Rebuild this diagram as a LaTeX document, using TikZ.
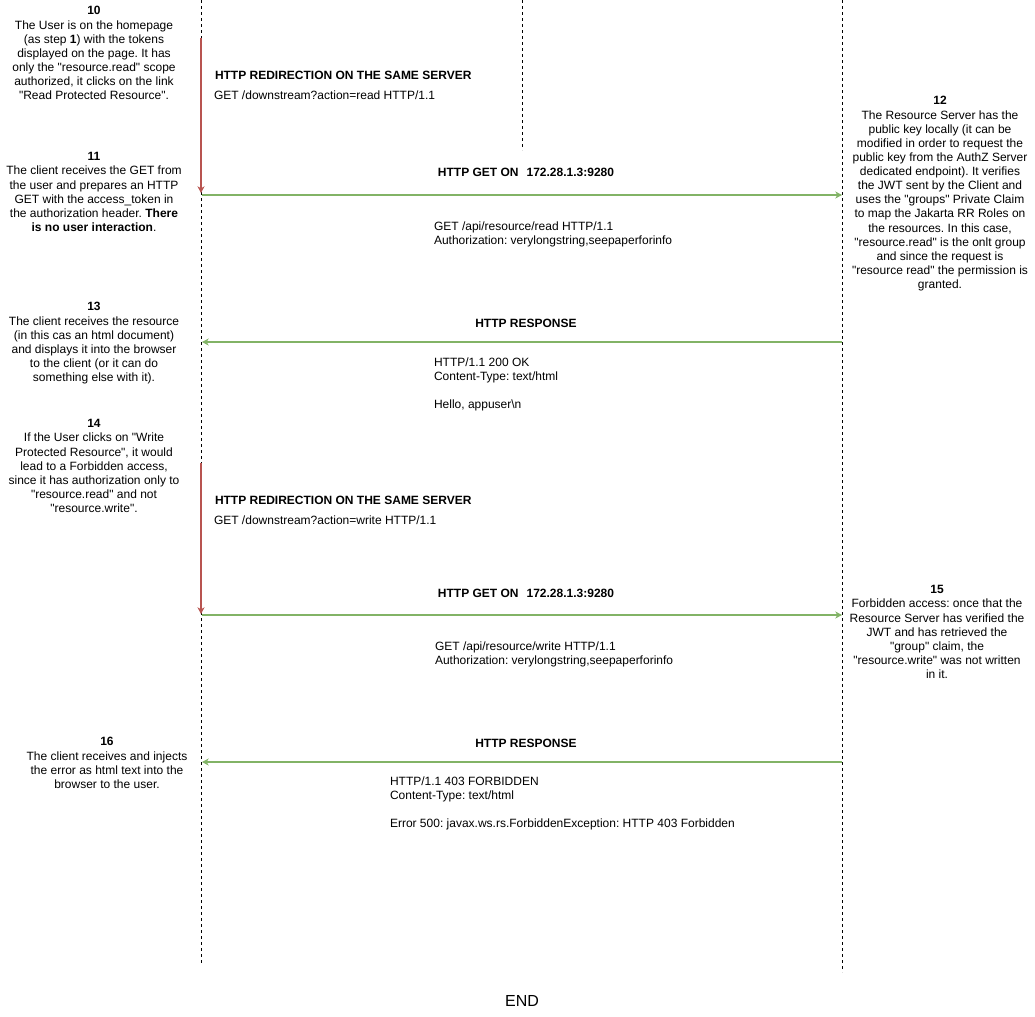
\documentclass[tikz,border=0pt]{standalone}
\usepackage{fontspec}
\setmainfont{Liberation Sans}[Ligatures=TeXOff]
\usetikzlibrary{arrows.meta}
\definecolor{redc}{HTML}{B85450}
\definecolor{greenc}{HTML}{82B366}
\frenchspacing
\begin{document}
\frenchspacing
\begin{tikzpicture}[x=0.75pt,y=-0.75pt,
  every node/.style={inner sep=0pt, outer sep=0pt, font=\fontsize{9}{10.6}\selectfont},
  lifeline/.style={draw=black, line width=0.75pt, dash pattern=on 2.25pt off 2.25pt},
  redarrow/.style={draw=redc, line width=0.9pt, -{Stealth[length=5pt,width=5.25pt,inset=1.5pt]}},
  greenarrow/.style={draw=greenc, line width=0.9pt, -{Stealth[length=5pt,width=5.25pt,inset=1.5pt]}},
  stepnote/.style={anchor=north, align=center},
  msgtitle/.style={font=\fontsize{9}{10.6}\selectfont\bfseries},
  msgbody/.style={anchor=north west, align=left},
]
\useasboundingbox (0,0) rectangle (1035,1017);

% lifelines
\coordinate (LT) at (201,0);
\coordinate (LB) at (201,965);
\coordinate (MT) at (522,0);
\coordinate (MB) at (522,150);
\coordinate (RT) at (842,0);
\coordinate (RB) at (842,972);
\draw[lifeline] (LT) -- (LB);
\draw[lifeline] (MT) -- (MB);
\draw[lifeline] (RT) -- (RB);

% arrow end points
\coordinate (r1s) at (201,38);
\coordinate (r1e) at (201,193);
\coordinate (g1s) at (202,195);
\coordinate (g1e) at (842,195);
\coordinate (g2s) at (842,342);
\coordinate (g2e) at (202,342);
\coordinate (r2s) at (201,463);
\coordinate (r2e) at (201,614);
\coordinate (g3s) at (202,615);
\coordinate (g3e) at (842,615);
\coordinate (g4s) at (842,762);
\coordinate (g4e) at (202,762);

\draw[redarrow] (r1s) -- (r1e);
\draw[greenarrow] (g1s) -- (g1e);
\draw[greenarrow] (g2s) -- (g2e);
\draw[redarrow] (r2s) -- (r2e);
\draw[greenarrow] (g3s) -- (g3e);
\draw[greenarrow] (g4s) -- (g4e);

% step notes
\node[stepnote] (n10) at (94,6.5) {\textbf{10}\\The User is on the homepage\\(as step \textbf{1}) with the tokens\\displayed on the page. It has\\only the "resource.read" scope\\authorized, it clicks on the link\\"Read Protected Resource".};
\node[stepnote] (n11) at (94,152.5) {\textbf{11}\\The client receives the GET from\\the user and prepares an HTTP\\GET with the access\_token in\\the authorization header. \textbf{There}\\\textbf{is no user interaction}.};
\node[stepnote] (n13) at (94,302.5) {\textbf{13}\\The client receives the resource\\(in this cas an html document)\\and displays it into the browser\\to the client (or it can do\\something else with it).};
\node[stepnote] (n14) at (94,419.5) {\textbf{14}\\If the User clicks on "Write\\Protected Resource", it would\\lead to a Forbidden access,\\since it has authorization only to\\"resource.read" and not\\"resource.write".};
\node[stepnote] (n16) at (107,737.5) {\textbf{16}\\The client receives and injects\\the error as html text into the\\browser to the user.};
\node[stepnote] (n12) at (940,96.5) {\textbf{12}\\The Resource Server has the\\public key locally (it can be\\modified in order to request the\\public key from the AuthZ Server\\dedicated endpoint). It verifies\\the JWT sent by the Client and\\uses the "groups" Private Claim\\to map the Jakarta RR Roles on\\the resources. In this case,\\"resource.read" is the onlt group\\and since the request is\\"resource read" the permission is\\granted.};
\node[stepnote] (n15) at (937,585.5) {\textbf{15}\\Forbidden access: once that the\\Resource Server has verified the\\JWT and has retrieved the\\"group" claim, the\\"resource.write" was not written\\in it.};

% messages
\node[msgtitle, anchor=base west] (t1) at (215,79.3) {HTTP REDIRECTION ON THE SAME SERVER};
\node[anchor=base west] (m1) at (214,99.3) {GET /downstream?action=read HTTP/1.1};
\node[msgtitle, anchor=base] (t2) at (526,176.3) {HTTP GET ON\hspace{6pt}172.28.1.3:9280};
\node[msgbody] (m2) at (434,221.5) {GET /api/resource/read HTTP/1.1\\Authorization: verylongstring,seepaperforinfo};
\node[msgtitle, anchor=base] (t3) at (526,327.3) {HTTP RESPONSE};
\node[msgbody] (m3) at (434,357.5) {HTTP/1.1 200 OK\\Content-Type: text/html\\[10.6pt]Hello, appuser\textbackslash n};
\node[msgtitle, anchor=base west] (t4) at (215,504.3) {HTTP REDIRECTION ON THE SAME SERVER};
\node[anchor=base west] (m4) at (214,524.3) {GET /downstream?action=write HTTP/1.1};
\node[msgtitle, anchor=base] (t5) at (526,597.3) {HTTP GET ON\hspace{6pt}172.28.1.3:9280};
\node[msgbody] (m5) at (435,641.5) {GET /api/resource/write HTTP/1.1\\Authorization: verylongstring,seepaperforinfo};
\node[msgtitle, anchor=base] (t6) at (526,747.3) {HTTP RESPONSE};
\node[msgbody] (m6) at (390,776.5) {HTTP/1.1 403 FORBIDDEN\\Content-Type: text/html\\[10.6pt]Error 500: javax.ws.rs.ForbiddenException: HTTP 403 Forbidden};

\node[anchor=base, font=\fontsize{12}{14}\selectfont] (endlabel) at (522,1006.5) {END};
\end{tikzpicture}
\end{document}
